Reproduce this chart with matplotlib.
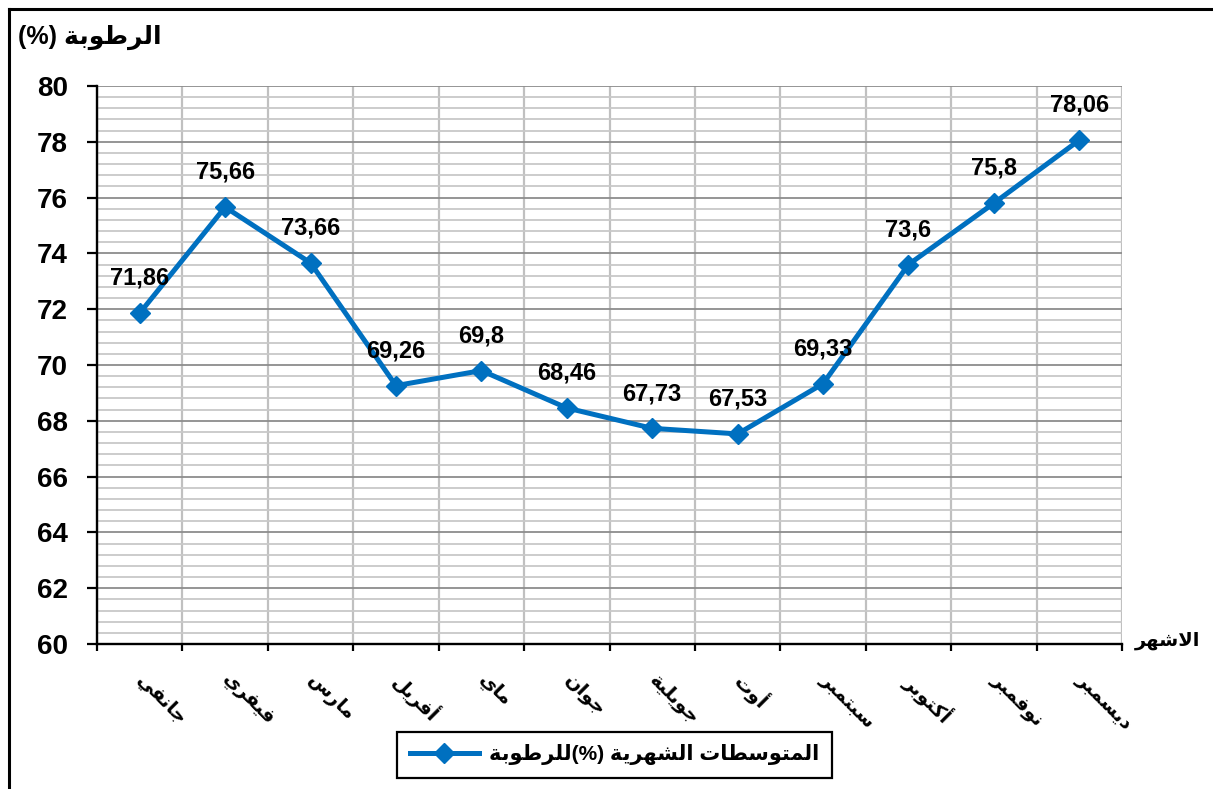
import numpy as np
import matplotlib.pyplot as plt
from matplotlib.lines import Line2D
from matplotlib.ticker import MultipleLocator

months = ["جانفي", "فيفري", "مارس", "أفريل", "ماي", "جوان",
          "جويلية", "أوت", "سبتمبر", "أكتوبر", "نوفمبر", "ديسمبر"]
humidity = [71.86, 75.66, 73.66, 69.26, 69.8, 68.46,
            67.73, 67.53, 69.33, 73.6, 75.8, 78.06]
ylabel_ar = "الرطوبة"
xlabel_ar = "الاشهر"
legend_a = "المتوسطات الشهرية"
legend_b = "للرطوبة"

# arabic presentation forms: isolated, final, initial, medial
FORMS = {
    'ا': ('\uFE8D', '\uFE8E', None, None),
    'أ': ('\uFE83', '\uFE84', None, None),
    'ب': ('\uFE8F', '\uFE90', '\uFE91', '\uFE92'),
    'ة': ('\uFE93', '\uFE94', None, None),
    'ت': ('\uFE95', '\uFE96', '\uFE97', '\uFE98'),
    'ج': ('\uFE9D', '\uFE9E', '\uFE9F', '\uFEA0'),
    'د': ('\uFEA9', '\uFEAA', None, None),
    'ر': ('\uFEAD', '\uFEAE', None, None),
    'س': ('\uFEB1', '\uFEB2', '\uFEB3', '\uFEB4'),
    'ش': ('\uFEB5', '\uFEB6', '\uFEB7', '\uFEB8'),
    'ط': ('\uFEC1', '\uFEC2', '\uFEC3', '\uFEC4'),
    'ف': ('\uFED1', '\uFED2', '\uFED3', '\uFED4'),
    'ك': ('\uFED9', '\uFEDA', '\uFEDB', '\uFEDC'),
    'ل': ('\uFEDD', '\uFEDE', '\uFEDF', '\uFEE0'),
    'م': ('\uFEE1', '\uFEE2', '\uFEE3', '\uFEE4'),
    'ن': ('\uFEE5', '\uFEE6', '\uFEE7', '\uFEE8'),
    'ه': ('\uFEE9', '\uFEEA', '\uFEEB', '\uFEEC'),
    'و': ('\uFEED', '\uFEEE', None, None),
    'ي': ('\uFEF1', '\uFEF2', '\uFEF3', '\uFEF4'),
}
LAM_ALEF = {'ا': ('\uFEFB', '\uFEFC', None, None),
            'أ': ('\uFEF7', '\uFEF8', None, None)}


def shape(word):
    toks = []
    i = 0
    while i < len(word):
        c = word[i]
        if c == 'ل' and i + 1 < len(word) and word[i + 1] in LAM_ALEF:
            toks.append(LAM_ALEF[word[i + 1]])
            i += 2
            continue
        toks.append(FORMS.get(c, c))
        i += 1
    out = []
    for k, t in enumerate(toks):
        if isinstance(t, str):
            out.append(t)
            continue
        prev = toks[k - 1] if k > 0 else None
        nxt = toks[k + 1] if k + 1 < len(toks) else None
        jp = isinstance(prev, tuple) and prev[2] is not None
        jn = t[2] is not None and isinstance(nxt, tuple)
        if jp and jn:
            out.append(t[3])
        elif jp:
            out.append(t[1])
        elif jn:
            out.append(t[2])
        else:
            out.append(t[0])
    return ''.join(reversed(out))


plt.rcParams['font.family'] = ['Liberation Sans', 'DejaVu Sans']
plt.rcParams['font.weight'] = 'bold'

blue = '#0070C0'
fig = plt.figure(figsize=(12.13, 7.89), dpi=100)
ax = fig.add_axes([97 / 1213, 1 - 644 / 789, 1025 / 1213, 558 / 789])

x = np.arange(len(months))
ax.plot(x, humidity, color=blue, lw=3.6, marker='D', ms=10.5,
        label=shape(legend_b) + "(%) " + shape(legend_a), zorder=3)

for xi, v in zip(x, humidity):
    ax.annotate(f"{v:g}".replace('.', ','), (xi, v), xytext=(0, 25),
                textcoords='offset points', ha='center', va='center',
                fontsize=17, fontweight='bold')

ax.set_xlim(-0.5, len(months) - 0.5)
ax.set_ylim(60, 80)
ax.yaxis.set_major_locator(MultipleLocator(2))
ax.yaxis.set_minor_locator(MultipleLocator(0.4))
ax.set_xticks(x, [shape(m) for m in months], rotation=-45, ha='left',
              va='center', rotation_mode='anchor', fontsize=14)
ax.set_xticks(np.arange(-0.5, len(months)), minor=True)
ax.tick_params(axis='x', which='major', length=0, pad=24)
ax.tick_params(axis='x', which='minor', length=5, width=1.6, direction='out')
ax.tick_params(axis='y', which='major', length=7, width=1.6, pad=14, labelsize=20)
ax.tick_params(axis='y', which='minor', length=0)

ax.grid(True, axis='y', which='major', color='#8c8c8c', lw=1.3)
ax.grid(True, axis='y', which='minor', color='#c8c8c8', lw=1.3)
ax.grid(True, axis='x', which='minor', color='#c0c0c0', lw=1.6)
ax.set_axisbelow(True)
for s in ['top', 'right']:
    ax.spines[s].set_visible(False)
for s in ['left', 'bottom']:
    ax.spines[s].set_linewidth(1.7)
    ax.spines[s].set_zorder(2.5)

fig.text(90 / 1213, 1 - 37 / 789, "(%) " + shape(ylabel_ar), ha='center', va='center',
         fontsize=18, fontweight='bold')
fig.text(1168 / 1213, 1 - 641 / 789, shape(xlabel_ar), ha='center', va='center',
         fontsize=14, fontweight='bold')

leg = fig.legend(loc='center', bbox_to_anchor=(614.5 / 1213, 1 - 754.5 / 789),
                 fancybox=False, edgecolor='black', framealpha=1,
                 prop={'size': 15, 'weight': 'bold'}, handlelength=3.3,
                 borderpad=0.6, handletextpad=0.5, borderaxespad=0)
leg.get_frame().set_linewidth(1.6)

# outer chart border (only top and left fall inside the picture)
fig.add_artist(Line2D([9 / 1213, 9 / 1213], [0, 1 - 9 / 789], transform=fig.transFigure,
                      color='black', lw=2.2))
fig.add_artist(Line2D([9 / 1213, 1], [1 - 9 / 789, 1 - 9 / 789], transform=fig.transFigure,
                      color='black', lw=2.2))

fig.savefig("out.png", dpi=100)
